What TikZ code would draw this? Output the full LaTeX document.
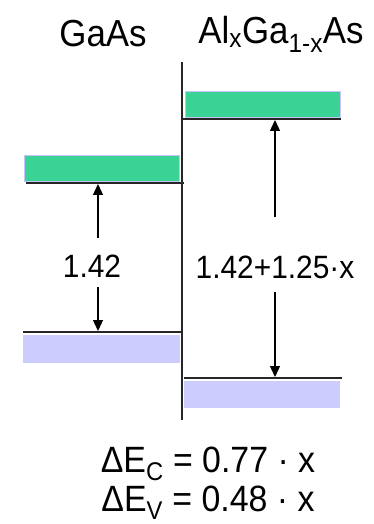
\documentclass[tikz,border=0pt]{standalone}
\usepackage{fontspec}
\usepackage{graphicx}
\setmainfont{Liberation Sans}
\usetikzlibrary{arrows.meta}
\definecolor{cbgreen}{RGB}{59,210,150}
\definecolor{vbviolet}{RGB}{204,204,255}
\definecolor{edgeviolet}{RGB}{200,195,250}
\newcommand{\tall}[1]{\scalebox{1}[1.08]{#1}}
\tikzset{
  cbband/.style={fill=cbgreen,draw=edgeviolet,line width=0.8pt},
  vbband/.style={fill=vbviolet},
  edge/.style={line width=1.5pt,draw=black!85},
  gap/.style={line width=1.3pt,-{Triangle[length=11pt,width=10pt]}},
  lbl/.style={font=\fontsize{30}{34}\selectfont,inner sep=0pt},
  head/.style={font=\fontsize{35}{40}\selectfont,inner sep=0pt},
  eq/.style={font=\fontsize{34}{38}\selectfont,inner sep=0pt,align=center}
}
\begin{document}
\begin{tikzpicture}[x=1bp,y=-1bp]
\useasboundingbox (0,0) rectangle (373,524);
% bands
\fill[cbband] (24,155) rectangle (179,181);
\fill[cbband] (185,91) rectangle (340,117);
\fill[vbband] (23,335) rectangle (180,363);
\fill[vbband] (184,381) rectangle (340,408);
% band edges
\coordinate (lcbA) at (26,183); \coordinate (lcbB) at (184,183);
\coordinate (rcbA) at (182,119); \coordinate (rcbB) at (341,119);
\coordinate (lvbA) at (23,332); \coordinate (lvbB) at (182,332);
\coordinate (rvbA) at (184,378); \coordinate (rvbB) at (342,378);
\draw[edge] (lcbA) -- (lcbB);
\draw[edge] (rcbA) -- (rcbB);
\draw[edge] (lvbA) -- (lvbB);
\draw[edge] (rvbA) -- (rvbB);
% interface
\coordinate (itop) at (182,62); \coordinate (ibot) at (182,420);
\draw[edge] (itop) -- (ibot);
% headers
\node[head] (ga) at (103,34) {\tall{GaAs}};
\node[head] (al) at (281,34) {\tall{Al\textsubscript{x}Ga\textsubscript{1-x}As}};
% gap labels
\node[lbl] (lg) at (92,266) {\tall{1.42}};
\node[lbl] (rg) at (275,267) {\tall{1.42+1.25·x}};
% arrows
\coordinate (la1) at (98,238); \coordinate (la1t) at (98,184);
\coordinate (la2) at (98,287); \coordinate (la2t) at (98,331);
\coordinate (ra1) at (275,217); \coordinate (ra1t) at (275,120);
\coordinate (ra2) at (275,292); \coordinate (ra2t) at (275,377);
\draw[gap] (la1) -- (la1t);
\draw[gap] (la2) -- (la2t);
\draw[gap] (ra1) -- (ra1t);
\draw[gap] (ra2) -- (ra2t);
% offsets
\node[eq] (dc) at (208,464) {\tall{ΔE\textsubscript{C} = 0.77 · x}};
\node[eq] (dv) at (208,503) {\tall{ΔE\textsubscript{V} = 0.48 · x}};
\end{tikzpicture}
\end{document}
